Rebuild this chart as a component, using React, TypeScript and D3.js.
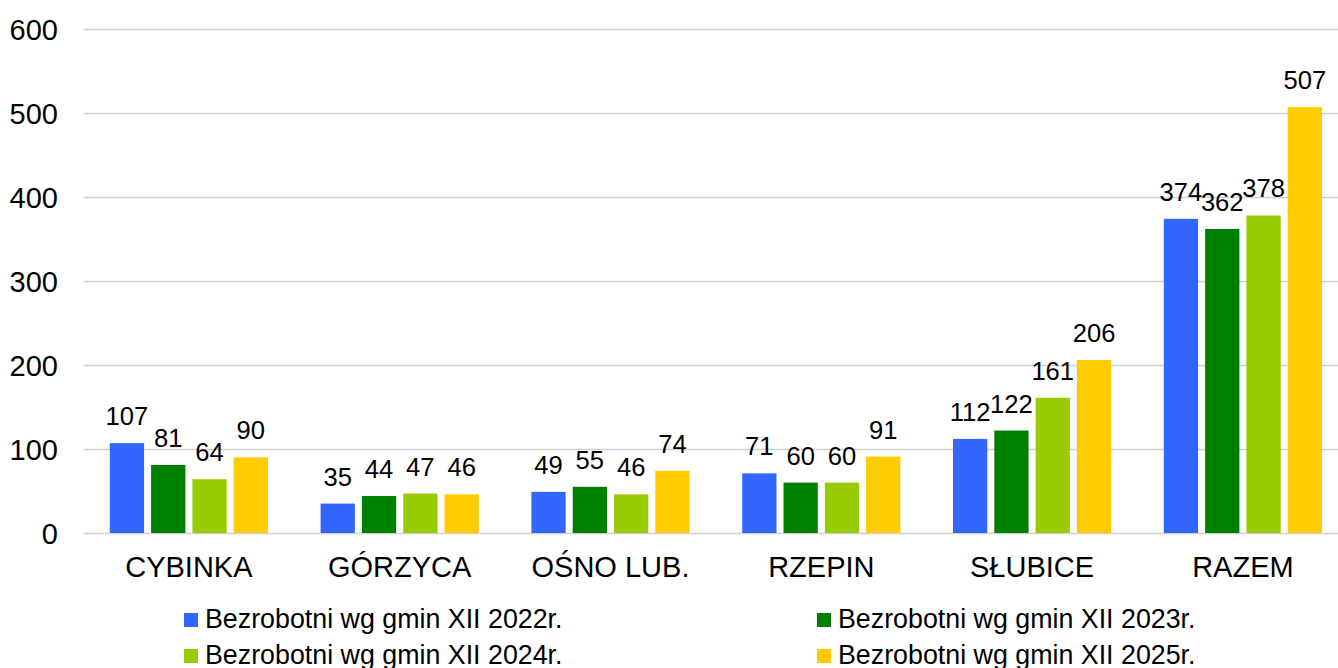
import React, { useEffect, useRef } from 'react';
import * as d3 from 'd3';

const categories = ['CYBINKA', 'GÓRZYCA', 'OŚNO LUB.', 'RZEPIN', 'SŁUBICE', 'RAZEM'];
const seriesNames = [
  'Bezrobotni wg gmin XII 2022r.',
  'Bezrobotni wg gmin XII 2023r.',
  'Bezrobotni wg gmin XII 2024r.',
  'Bezrobotni wg gmin XII 2025r.',
];
const values2022 = [107, 35, 49, 71, 112, 374];
const values2023 = [81, 44, 55, 60, 122, 362];
const values2024 = [64, 47, 46, 60, 161, 378];
const values2025 = [90, 46, 74, 91, 206, 507];
const seriesColors = ['#3366FF', '#008000', '#99CC00', '#FFCC00'];
const yTicks = [0, 100, 200, 300, 400, 500, 600];

const FONT = '"Liberation Sans", Arial, sans-serif';

function App() {
  const ref = useRef<SVGSVGElement>(null);

  useEffect(() => {
    const svg = d3.select(ref.current);
    svg.selectAll('*').remove();

    const width = 1338;
    const left = 83.5;
    const step = 210.8;
    const allSeries = [values2022, values2023, values2024, values2025];

    const x = d3
      .scaleBand<string>()
      .domain(categories)
      .range([left, left + step * categories.length])
      .padding(0);

    const groupW = 158.2;
    const xs = d3
      .scaleBand<number>()
      .domain([0, 1, 2, 3])
      .range([0, groupW])
      .paddingInner(0.17)
      .paddingOuter(0);

    const y = d3.scaleLinear().domain([0, 600]).range([533, 29]);

    // grid
    svg
      .append('g')
      .selectAll('line')
      .data(yTicks)
      .enter()
      .append('line')
      .attr('x1', left)
      .attr('x2', width)
      .attr('y1', (d) => Math.round(y(d)) + 0.5)
      .attr('y2', (d) => Math.round(y(d)) + 0.5)
      .attr('stroke', '#d0d0d0')
      .attr('stroke-width', 1.3);

    // y tick labels
    svg
      .append('g')
      .selectAll('text')
      .data(yTicks)
      .enter()
      .append('text')
      .attr('x', 58)
      .attr('y', (d) => y(d) + 10.5)
      .attr('text-anchor', 'end')
      .attr('font-family', FONT)
      .attr('font-size', 29)
      .attr('fill', '#000')
      .text((d) => d);

    // bars
    const offset = (x.bandwidth() - groupW) / 2;
    allSeries.forEach((vals, si) => {
      const g = svg.append('g');
      g.selectAll('rect')
        .data(vals)
        .enter()
        .append('rect')
        .attr('x', (d, i) => x(categories[i]) + offset + xs(si))
        .attr('y', (d) => y(d))
        .attr('width', xs.bandwidth())
        .attr('height', (d) => y(0) - y(d))
        .attr('fill', seriesColors[si]);

      g.selectAll('text')
        .data(vals)
        .enter()
        .append('text')
        .attr('x', (d, i) => x(categories[i]) + offset + xs(si) + xs.bandwidth() / 2)
        .attr('y', (d) => y(d) - 18)
        .attr('text-anchor', 'middle')
        .attr('font-family', FONT)
        .attr('font-size', 25.6)
        .attr('fill', '#000')
        .text((d) => d);
    });

    // category labels
    svg
      .append('g')
      .selectAll('text')
      .data(categories)
      .enter()
      .append('text')
      .attr('x', (d) => x(d) + x.bandwidth() / 2)
      .attr('y', 577)
      .attr('text-anchor', 'middle')
      .attr('font-family', FONT)
      .attr('font-size', 29)
      .attr('fill', '#000')
      .text((d) => d);

    // legend
    const legendX = [184, 817];
    const legendY = [613, 649];
    const legend = svg
      .append('g')
      .selectAll('g')
      .data(seriesNames)
      .enter()
      .append('g')
      .attr('transform', (d, i) => `translate(${legendX[i % 2]},${legendY[Math.floor(i / 2)]})`);

    legend
      .append('rect')
      .attr('width', 14)
      .attr('height', 14)
      .attr('fill', (d, i) => seriesColors[i]);

    legend
      .append('text')
      .attr('x', 21)
      .attr('y', 15)
      .attr('font-family', FONT)
      .attr('font-size', 26.8)
      .attr('fill', '#000')
      .text((d) => d);
  }, []);

  return (
    <svg
      ref={ref}
      width={1338}
      height={668}
      style={{ position: 'absolute', left: 0, top: 0, background: '#fff' }}
    />
  );
}

export default App;
